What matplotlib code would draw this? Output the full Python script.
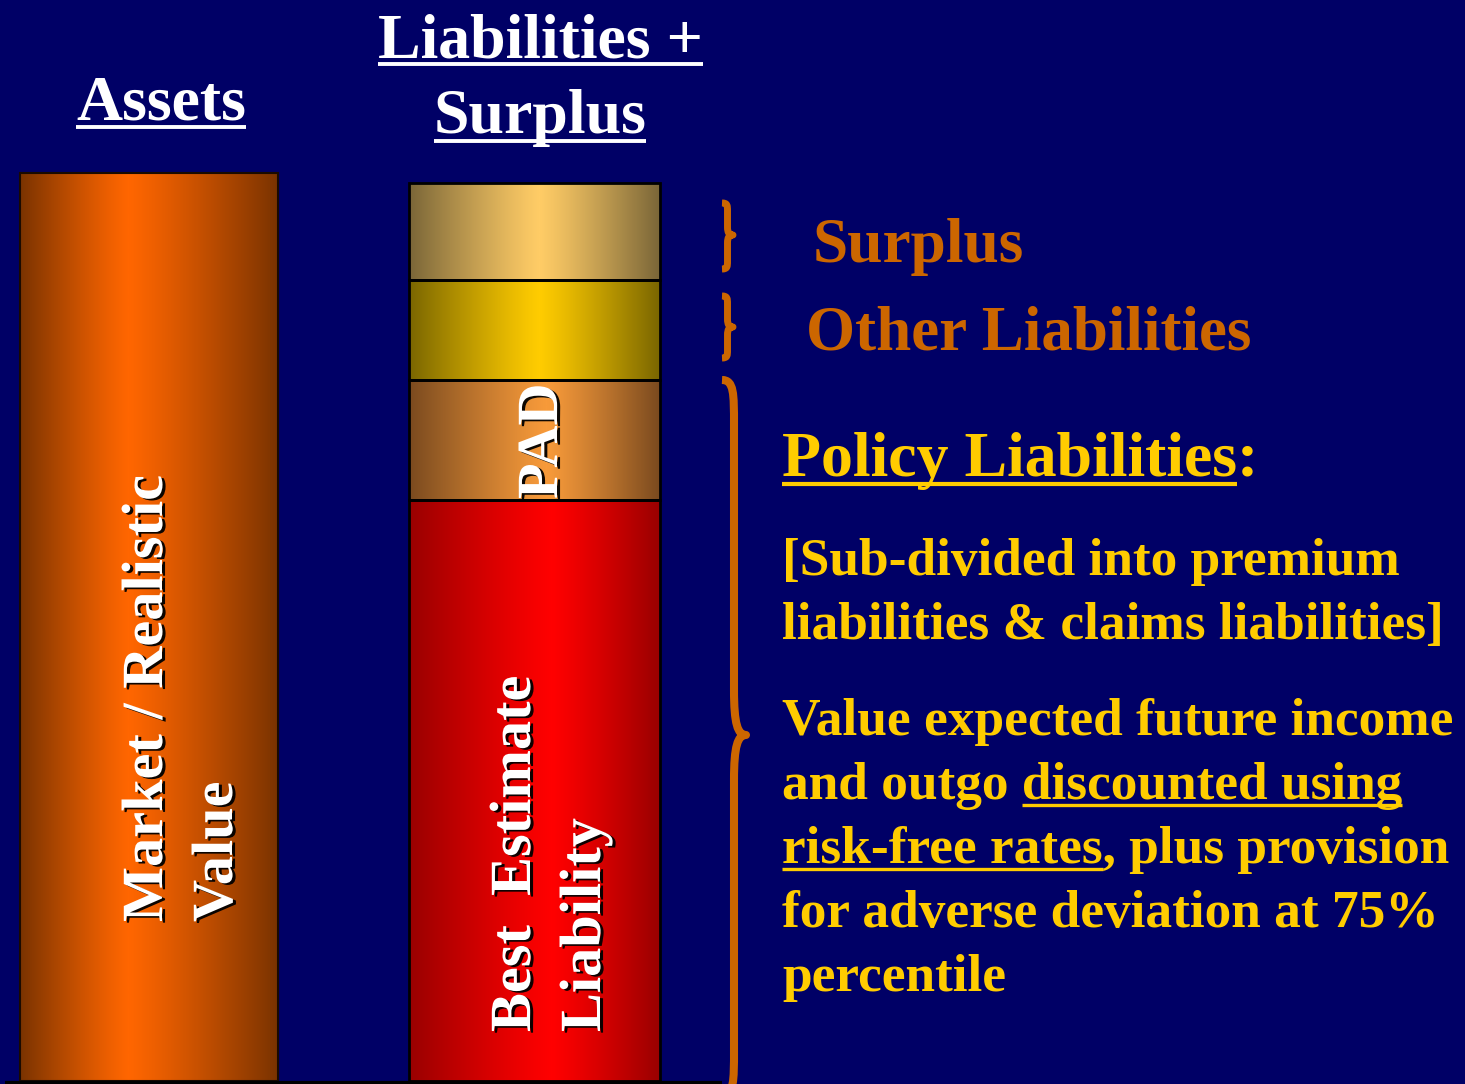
import numpy as np
import matplotlib
matplotlib.use('Agg')
import matplotlib.pyplot as plt
from matplotlib.colors import LinearSegmentedColormap
from matplotlib.path import Path
from matplotlib.patches import PathPatch
import matplotlib.patheffects as pe

# ---------------- data ----------------
column_titles = ["Assets", "Liabilities +\nSurplus"]
asset_label_lines = ["Market / Realistic", "Value"]
asset_value = [908]
liab_components = ["Best Estimate Liability", "PAD", "Other Liabilities", "Surplus"]
liab_values = [581, 120, 100, 97]
side_labels = ["Surplus", "Other Liabilities"]
policy_title = "Policy Liabilities"
policy_sub = ["[Sub-divided into premium", "liabilities & claims liabilities]"]
policy_body = [
    [("Value expected future income", False)],
    [("and outgo", False), ("discounted using", True)],
    [("risk-free rates", True), (", plus provision", False)],
    [("for adverse deviation at 75%", False)],
    [("percentile", False)],
]

# ---------------- style ----------------
BG = "#000066"
SERIF = "Liberation Serif"
ORANGE = "#CC6600"
YELLOW = "#FFCC00"
asset_grad = ("#7a3300", "#ff6600", 0.42)
liab_grads = [("#990000", "#ff0000", 0.57),
              ("#7a4a1f", "#f79a3a", 0.55),
              ("#7a6600", "#ffcc00", 0.52),
              ("#7a6638", "#ffcc66", 0.52)]
BODY = 38.4

W, Hpx = 1465, 1084
fig = plt.figure(figsize=(W / 100, Hpx / 100), dpi=100, facecolor=BG)
ax = fig.add_axes([0, 0, 1, 1])
ax.set_facecolor(BG)
ax.set_xlim(0, W)
ax.set_ylim(-3, 1081)
ax.axis('off')


def Y(py):
    return 1081 - py


def grad_fill(patch, edge, center, c):
    x0, y0 = patch.get_x(), patch.get_y()
    w, h = patch.get_width(), patch.get_height()
    t = np.linspace(0, 1, 400)
    d = np.abs(t - c) / np.where(t < c, c, 1 - c)
    v = 1 - np.clip(d, 0, 1) ** 1.15
    cmap = LinearSegmentedColormap.from_list("g", [edge, center])
    im = ax.imshow(v[None, :], cmap=cmap, vmin=0, vmax=1, aspect='auto',
                   extent=[x0, x0 + w, y0, y0 + h], zorder=2, interpolation='bilinear')
    im.set_clip_path(patch)


# assets bar
ab = ax.bar([149], asset_value, width=258, bottom=0, facecolor='none',
            edgecolor='#1a0a00', linewidth=1.5, zorder=3)
grad_fill(ab[0], *asset_grad)

# liabilities stacked bar
bottoms = np.concatenate([[0], np.cumsum(liab_values)[:-1]])
lb = ax.bar([534.5] * len(liab_values), liab_values, width=251, bottom=bottoms,
            facecolor='none', edgecolor='black', linewidth=2, zorder=3)
for p, g in zip(lb, liab_grads):
    grad_fill(p, *g)

ax.set_xlim(0, W)
ax.set_ylim(-3, 1081)

# baseline
ax.plot([5, 722], [Y(1082.5), Y(1082.5)], color='black', lw=3, zorder=4,
        solid_capstyle='butt')

# ---------------- titles ----------------
tkw = dict(family=SERIF, fontweight='bold', color='white', fontsize=46,
           ha='center', va='baseline', zorder=5)
t_assets = ax.text(161, Y(120), column_titles[0], **tkw)
t_l1 = ax.text(540, Y(57), column_titles[1].split("\n")[0], **tkw)
t_l2 = ax.text(540, Y(133), column_titles[1].split("\n")[1], **tkw)

# ---------------- vertical labels ----------------
shadow = [pe.withSimplePatchShadow(offset=(2.2, -1.2), shadow_rgbFace='black', alpha=0.95)]
vkw = dict(family=SERIF, fontweight='bold', color='white', fontsize=42,
           rotation=90, rotation_mode='anchor', ha='left', va='baseline',
           zorder=6, path_effects=shadow)
ax.text(162, Y(922), asset_label_lines[0], **vkw)
ax.text(232, Y(922), asset_label_lines[1], **vkw)
ax.text(530, Y(1032), "Best  Estimate", **vkw)
ax.text(600, Y(1032), "Liability", **vkw)
ax.text(557, Y(499), liab_components[1], **vkw)


# ---------------- braces ----------------
def brace(x, ytop, ybot, ymid, w, r, lw):
    q = x + w * 0.5
    tip = x + w
    pts = [(x, ytop), (q, ytop), (q, ytop + r * 0.3), (q, ytop + r),
           (q, ymid - r),
           (q, ymid - r * 0.25), (q + (tip - q) * 0.3, ymid), (tip, ymid),
           (q + (tip - q) * 0.3, ymid), (q, ymid + r * 0.25), (q, ymid + r),
           (q, ybot - r),
           (q, ybot - r * 0.3), (q, ybot), (x, ybot)]
    codes = [Path.MOVETO, Path.CURVE4, Path.CURVE4, Path.CURVE4,
             Path.LINETO,
             Path.CURVE4, Path.CURVE4, Path.CURVE4,
             Path.CURVE4, Path.CURVE4, Path.CURVE4,
             Path.LINETO,
             Path.CURVE4, Path.CURVE4, Path.CURVE4]
    verts = [(px, Y(py)) for px, py in pts]
    ax.add_patch(PathPatch(Path(verts, codes), facecolor='none', edgecolor=ORANGE,
                           lw=lw, zorder=5, capstyle='butt', joinstyle='round'))


brace(722, 203, 269, 235, 11, 8, 5.0)
brace(722, 296, 358, 327, 11, 8, 5.0)
brace(722, 380, 1095, 735, 24, 45, 5.8)

# ---------------- right side text ----------------
skw = dict(family=SERIF, fontweight='bold', ha='left', va='baseline', zorder=5)
ax.text(813, Y(262), side_labels[0], color=ORANGE, fontsize=45.6, **skw)
ax.text(806, Y(350), side_labels[1], color=ORANGE, fontsize=45.4, **skw)
ax.text(782, Y(476), policy_title + ":", color=YELLOW, fontsize=46, **skw)
for i, line in enumerate(policy_sub):
    ax.text(782, Y(575 + 64 * i), line, color=YELLOW, fontsize=BODY, **skw)
for i, segs in enumerate(policy_body):
    s_full = ""
    for j, (s, u) in enumerate(segs):
        if j > 0 and not s.startswith(","):
            s_full += " "
        s_full += s
    ax.text(782, Y(735 + 64 * i), s_full, color=YELLOW, fontsize=BODY, **skw)

# ---------------- underlines ----------------
fig.canvas.draw()
rend = fig.canvas.get_renderer()


def tw(s, size):
    t = ax.text(0, 0, s, family=SERIF, fontweight='bold', fontsize=size)
    w = t.get_window_extent(rend).width
    t.remove()
    return w


def uline(x0, x1, py, lw, color):
    ax.plot([x0, x1], [Y(py), Y(py)], color=color, lw=lw, zorder=5,
            solid_capstyle='butt')


for t, py in [(t_assets, 127), (t_l1, 64), (t_l2, 141)]:
    bb = t.get_window_extent(rend)
    uline(bb.x0, bb.x1, py, 2.8, 'white')

uline(782, 782 + tw(policy_title, 46), 484, 3.0, YELLOW)

sp = tw("a a", BODY) - tw("aa", BODY)
for i, segs in enumerate(policy_body):
    s_acc = ""
    for j, (s, u) in enumerate(segs):
        pre = s_acc
        if j > 0 and not s.startswith(","):
            start = 782 + tw(pre, BODY) + sp
            s_acc += " "
        else:
            start = 782 + (tw(pre, BODY) if pre else 0)
        s_acc += s
        end = 782 + tw(s_acc, BODY)
        if u:
            uline(start, end, 735 + 64 * i + 6, 2.4, YELLOW)

fig.savefig("out.png", dpi=100, facecolor=BG)
